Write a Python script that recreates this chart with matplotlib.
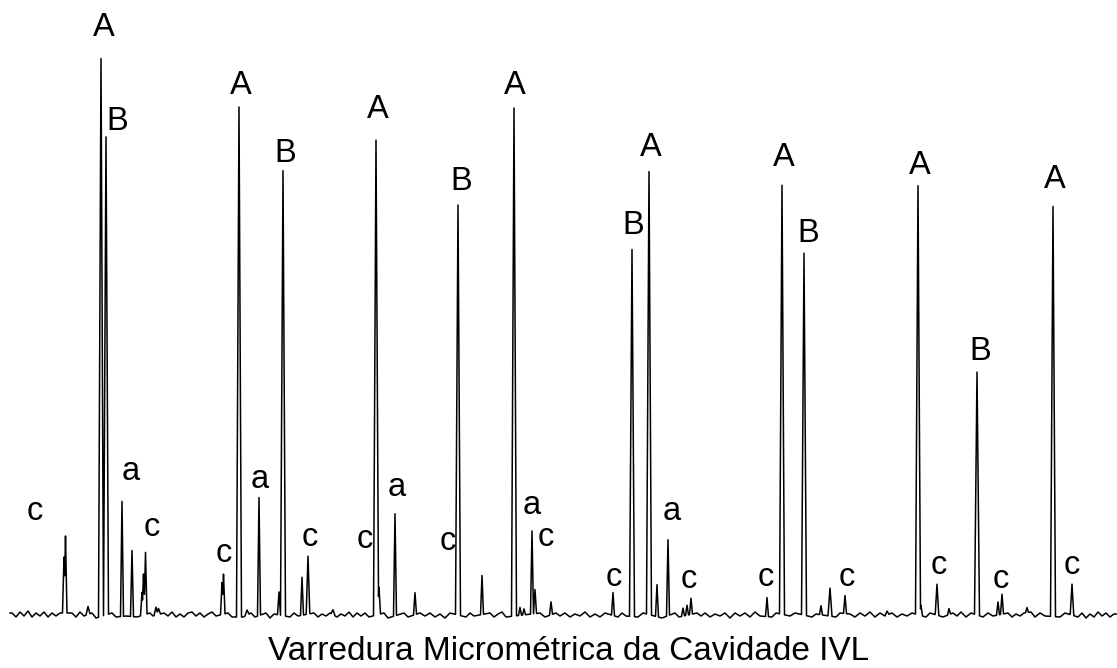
import numpy as np
import matplotlib.pyplot as plt

# peak positions (scan position) and heights above baseline
peak_pos = [64, 65.5, 88, 101, 106, 122, 132, 142, 143.5, 145.5, 156, 158.5,
            222, 223.5, 239, 247, 259, 279, 283, 302, 308, 333, 376, 379,
            395, 415, 458, 482, 514, 520, 524, 532, 535, 551,
            613, 632, 649, 657, 668, 683, 687, 691,
            767, 782, 804, 821, 830, 845, 887, 918, 921, 937, 949,
            977, 998, 1002, 1027, 1053, 1072]
peak_height = [56, 77, 8, 558, 478, 115, 66, 23, 41, 62, 8, 6,
               32, 40, 510, 5, 118, 23, 445, 38, 58, 5, 475, 27,
               102, 22, 410, 39, 508, 8, 6, 83, 24, 13,
               23, 367, 443, 32, 76, 8, 10, 16,
               19, 429, 362, 9, 28, 18, 4, 429, 10, 31, 6,
               243, 13, 20, 5, 410, 31]
peak_width = [1.5, 1.5, 2, 2.5, 2.5, 1.5, 1.5, 1.5, 1.5, 1.5, 2, 2,
              1.5, 1.5, 2.5, 2, 1.5, 1.5, 2.5, 1.5, 1.8, 2, 2.5, 1.5,
              1.5, 1.5, 2.5, 1.5, 2.5, 1.5, 1.5, 1.5, 1.5, 1.5,
              1.5, 2.5, 2.5, 1.5, 1.5, 1.5, 1.5, 1.5,
              1.5, 2.5, 2.5, 1.5, 2, 1.5, 2, 2.5, 1.5, 1.8, 1.5,
              2.5, 1.5, 1.5, 1.5, 2.5, 1.8]

# baseline ripple
ripple_pos = [12, 16, 20, 24, 28, 32, 36, 40, 44, 48, 52, 56, 60,
              72, 76, 80, 84, 92, 96, 112, 116, 126, 137, 150, 153,
              164, 168, 172, 176, 180, 184, 188, 192, 196, 200, 204, 208, 212, 216,
              228, 232, 243, 251, 255, 266, 270, 274, 290, 294, 298,
              314, 318, 322, 326, 330, 337, 341, 345, 349, 353, 357, 361, 365, 369,
              384, 388, 404, 408, 420, 425, 430, 435, 440, 445, 450,
              466, 470, 474, 490, 494, 498, 502, 506, 540, 545,
              556, 560, 565, 570, 575, 580, 585, 590, 595, 600, 605,
              618, 622, 626, 638, 643, 662, 675, 679,
              697, 701, 705, 710, 715, 720, 725, 730, 735, 740, 745, 750, 755, 760,
              772, 776, 790, 795, 812, 816, 836, 840, 850, 855, 860, 865, 870,
              875, 880, 885, 892, 897, 902, 907, 912,
              926, 930, 943, 953, 957, 961, 966, 971,
              983, 988, 993, 1008, 1012, 1016, 1020, 1024, 1031, 1035, 1040, 1045,
              1060, 1065, 1078, 1082, 1086, 1090, 1094, 1098, 1102, 1106, 1110, 1114]
ripple_height = [2, -2, 3, -1, 4, -2, 2, -1, 3, -2, 2, -1, 2,
                 2, -2, 3, -1, 2, -3, 2, -2, -1, -2, 2, -1,
                 2, -1, 3, -2, 1, -2, 2, 3, -1, 2, -2, 1, 3, -1,
                 2, -2, -2, 2, -2, 2, -3, 1, -2, 2, -1,
                 2, -2, 1, -1, 2, -2, 1, -1, 3, -2, 2, -1, 2, -2,
                 2, -3, 2, -2, 2, -1, 2, -2, 1, -3, 2,
                 -2, 2, -1, 2, -2, 1, 3, -2, 2, -2,
                 2, -1, 2, -2, 1, -1, 3, -2, 1, -2, 2,
                 -2, 2, -1, -2, 2, -3, 2, -2,
                 2, -1, 2, -2, 1, -1, 2, -3, 2, -1, 2, -2, 3, -1,
                 -2, 2, -1, 2, -2, 1, -2, 2, 1, -2, 2, -1, 3,
                 -2, 2, -1, 2, -2, 1, -1, 2,
                 -2, 2, -2, 2, -1, 3, -2, 2,
                 -2, 2, -1, 2, -2, 1, -1, 2, 3, -2, 2, -1,
                 -2, 2, -2, 2, -3, 1, -2, 3, -1, 2, -2, 1]

labels = ["c", "A", "B", "a", "c",
          "c", "A", "a", "B", "c", "c", "A", "a",
          "c", "B", "A", "a", "c",
          "c", "B", "A", "a", "c",
          "c", "A", "B", "c", "A", "c",
          "B", "c", "A", "c"]
label_x = [35, 104, 117, 131, 152,
           224, 241, 260, 285, 310, 365, 378, 397,
           448, 461, 515, 532, 546,
           614, 633, 651, 672, 689,
           766, 784, 808, 847, 920, 939,
           980, 1001, 1055, 1072]
label_y = [103, 587, 493, 143, 88,
           62, 530, 135, 462, 77, 75, 505, 128,
           74, 433, 530, 110, 78,
           37, 389, 467, 103, 35,
           37, 457, 382, 37, 449, 50,
           263, 35, 435, 49]

x = np.arange(10, 1117.01, 0.25)
peaks = np.zeros_like(x)
for p, h, w in zip(peak_pos, peak_height, peak_width):
    peaks = np.maximum(peaks, h * np.clip(1 - np.abs(x - p) / w, 0, None))
ripple = np.interp(x, ripple_pos, ripple_height)
y = peaks + ripple

fig = plt.figure(figsize=(11.17, 6.68), dpi=100)
ax = fig.add_axes([0, 0, 1, 1])
ax.plot(x, y, color="black", linewidth=1.1)

for t, lx, ly in zip(labels, label_x, label_y):
    ax.text(lx, ly, t, ha="center", va="center", fontsize=23.5,
            family="Liberation Sans")

ax.text(569, -45, "Varredura Micrométrica da Cavidade IVL", ha="center",
        va="baseline", fontsize=24, family="Liberation Sans")

ax.set_xlim(0, 1117)
ax.set_ylim(-53, 615)
ax.axis("off")

fig.savefig("out.png", dpi=100)
